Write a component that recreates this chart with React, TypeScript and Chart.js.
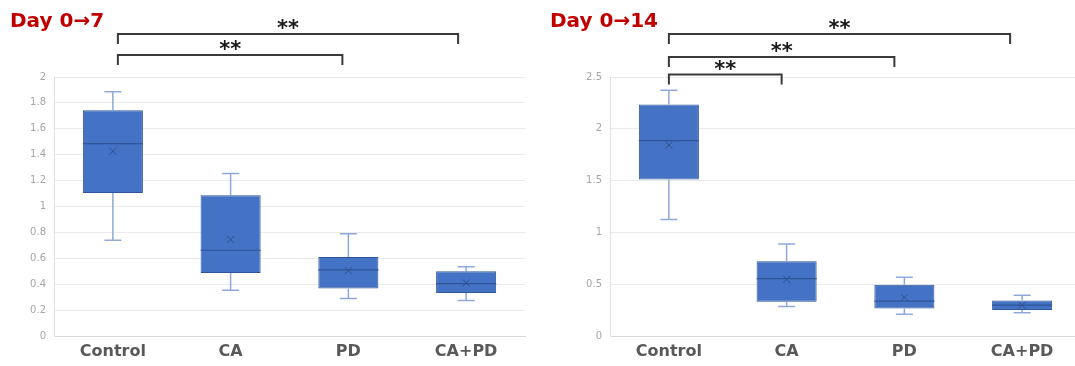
import React, { useEffect, useRef } from "react";
import { Chart, registerables } from "chart.js";

Chart.register(...registerables);

const categories = ["Control", "CA", "PD", "CA+PD"];

// Day 0→7
const day7Min = [0.74, 0.354, 0.29, 0.275];
const day7Q1 = [1.105, 0.486, 0.367, 0.332];
const day7Median = [1.486, 0.662, 0.51, 0.405];
const day7Q3 = [1.744, 1.087, 0.611, 0.5];
const day7Max = [1.886, 1.255, 0.789, 0.535];
const day7Mean = [1.426, 0.745, 0.505, 0.41];
const day7AxisMax = 2;
const day7AxisStep = 0.2;
const day7Pairs = [
  [0, 3],
  [0, 2],
];

// Day 0→14
const day14Min = [1.125, 0.285, 0.21, 0.225];
const day14Q1 = [1.51, 0.33, 0.265, 0.251];
const day14Median = [1.886, 0.553, 0.336, 0.298];
const day14Q3 = [2.235, 0.721, 0.495, 0.342];
const day14Max = [2.371, 0.889, 0.566, 0.394];
const day14Mean = [1.843, 0.547, 0.372, 0.298];
const day14AxisMax = 2.5;
const day14AxisStep = 0.5;
const day14Pairs = [
  [0, 3],
  [0, 2],
  [0, 1],
];

const sigLabel = "**";

type PanelProps = {
  title: string;
  mins: number[];
  q1: number[];
  medians: number[];
  q3: number[];
  maxs: number[];
  means: number[];
  axisMax: number;
  axisStep: number;
  pairs: number[][];
  bracketOffsets: number[];
  leftInset: number;
  rightInsets: number[];
  padTop: number;
  padRight: number;
  axisWidth: number;
  width: number;
  left: number;
};

function BoxPanel(p: PanelProps) {
  const ref = useRef<HTMLCanvasElement>(null);

  useEffect(() => {
    const boxPlugin = {
      id: "boxExtras",
      afterDatasetsDraw(chart: any) {
        const { ctx, scales } = chart;
        const x = scales.x;
        const y = scales.y;
        const meta = chart.getDatasetMeta(0);
        ctx.save();
        categories.forEach((_, i) => {
          const cx = x.getPixelForValue(i);
          const bw = meta.data[i] ? meta.data[i].width : 60;
          const yMin = y.getPixelForValue(p.mins[i]);
          const yQ1 = y.getPixelForValue(p.q1[i]);
          const yQ3 = y.getPixelForValue(p.q3[i]);
          const yMax = y.getPixelForValue(p.maxs[i]);
          const yMed = y.getPixelForValue(p.medians[i]);
          const yMean = y.getPixelForValue(p.means[i]);
          const cap = 17;
          ctx.strokeStyle = "#8FA9DA";
          ctx.lineWidth = 1.5;
          ctx.beginPath();
          ctx.moveTo(cx, yQ3);
          ctx.lineTo(cx, yMax);
          ctx.moveTo(cx - cap / 2, yMax);
          ctx.lineTo(cx + cap / 2, yMax);
          ctx.moveTo(cx, yQ1);
          ctx.lineTo(cx, yMin);
          ctx.moveTo(cx - cap / 2, yMin);
          ctx.lineTo(cx + cap / 2, yMin);
          ctx.stroke();
          ctx.strokeStyle = "#2E5597";
          ctx.lineWidth = 1.2;
          ctx.beginPath();
          ctx.moveTo(cx - bw / 2, yMed);
          ctx.lineTo(cx + bw / 2, yMed);
          ctx.stroke();
          const m = 3.5;
          ctx.strokeStyle = "#2F4F8F";
          ctx.lineWidth = 1;
          ctx.beginPath();
          ctx.moveTo(cx - m, yMean - m);
          ctx.lineTo(cx + m, yMean + m);
          ctx.moveTo(cx + m, yMean - m);
          ctx.lineTo(cx - m, yMean + m);
          ctx.stroke();
        });
        ctx.restore();
      },
    };

    const sigPlugin = {
      id: "sigBrackets",
      afterDraw(chart: any) {
        const { ctx, scales, chartArea } = chart;
        const x = scales.x;
        ctx.save();
        ctx.fillStyle = "#C00000";
        ctx.font = "bold 20px 'DejaVu Sans'";
        ctx.textAlign = "left";
        ctx.textBaseline = "alphabetic";
        ctx.fillText(p.title, 10, 27);
        p.pairs.forEach((pair, k) => {
          const x1 = x.getPixelForValue(pair[0]) + p.leftInset;
          const x2 = x.getPixelForValue(pair[1]) - p.rightInsets[k];
          const yl = chartArea.top - p.bracketOffsets[k];
          const tick = 10;
          ctx.strokeStyle = "#3A3A3A";
          ctx.lineWidth = 2;
          ctx.beginPath();
          ctx.moveTo(x1, yl + tick);
          ctx.lineTo(x1, yl);
          ctx.lineTo(x2, yl);
          ctx.lineTo(x2, yl + tick);
          ctx.stroke();
          ctx.fillStyle = "#1A1A1A";
          ctx.font = "bold 21px 'DejaVu Sans'";
          ctx.textAlign = "center";
          ctx.textBaseline = "alphabetic";
          ctx.fillText(sigLabel, (x1 + x2) / 2, yl + 1);
        });
        ctx.restore();
      },
    };

    const chart = new Chart(ref.current as HTMLCanvasElement, {
      type: "bar",
      data: {
        labels: categories,
        datasets: [
          {
            data: p.q1.map((v, i) => [v, p.q3[i]]) as any,
            backgroundColor: "#4472C4",
            borderColor: "#2F5597",
            borderWidth: 1,
            borderSkipped: false,
            barPercentage: 0.51,
            categoryPercentage: 1,
          },
        ],
      },
      options: {
        animation: false,
        responsive: true,
        maintainAspectRatio: false,
        layout: { padding: { top: p.padTop, right: p.padRight, left: 0, bottom: 0 } },
        plugins: {
          legend: { display: false },
          tooltip: { enabled: false },
        },
        scales: {
          x: {
            grid: { display: false, drawTicks: false },
            border: { display: true, color: "#D9D9D9" },
            ticks: {
              color: "#595959",
              font: { family: "'DejaVu Sans'", size: 16, weight: "bold" },
              padding: 6,
            },
            afterFit: (s: any) => {
              s.height = 30;
            },
          },
          y: {
            min: 0,
            max: p.axisMax,
            ticks: {
              stepSize: p.axisStep,
              color: "#A6A6A6",
              font: { family: "'DejaVu Sans'", size: 10 },
              padding: 8,
              callback: (v: any) => String(Number(Number(v).toFixed(2))),
            },
            grid: { color: "#EBEBEB", drawTicks: false },
            border: { display: true, color: "#E3E3E3" },
            afterFit: (s: any) => {
              s.width = p.axisWidth;
            },
          },
        },
      } as any,
      plugins: [boxPlugin, sigPlugin],
    });
    return () => chart.destroy();
  }, []);

  return (
    <div
      style={{
        position: "absolute",
        left: p.left,
        top: 0,
        width: p.width,
        height: 366,
      }}
    >
      <canvas ref={ref} />
    </div>
  );
}

export default function App() {
  return (
    <div
      style={{
        position: "fixed",
        left: 0,
        top: 0,
        width: 1075,
        height: 366,
        overflow: "hidden",
        background: "#ffffff",
      }}
    >
      <BoxPanel
        title="Day 0→7"
        mins={day7Min}
        q1={day7Q1}
        medians={day7Median}
        q3={day7Q3}
        maxs={day7Max}
        means={day7Mean}
        axisMax={day7AxisMax}
        axisStep={day7AxisStep}
        pairs={day7Pairs}
        bracketOffsets={[43, 22]}
        leftInset={5}
        rightInsets={[8, 6]}
        padTop={77}
        padRight={15}
        axisWidth={54}
        width={540}
        left={0}
      />
      <BoxPanel
        title="Day 0→14"
        mins={day14Min}
        q1={day14Q1}
        medians={day14Median}
        q3={day14Q3}
        maxs={day14Max}
        means={day14Mean}
        axisMax={day14AxisMax}
        axisStep={day14AxisStep}
        pairs={day14Pairs}
        bracketOffsets={[43, 20, 2.5]}
        leftInset={0}
        rightInsets={[12, 10, 5]}
        padTop={77}
        padRight={4}
        axisWidth={70}
        width={545}
        left={540}
      />
    </div>
  );
}
